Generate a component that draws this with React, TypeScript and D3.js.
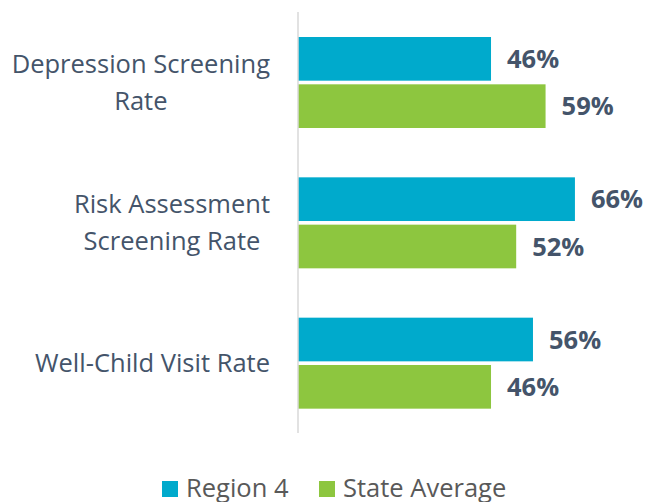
import React, { useEffect, useRef } from "react";
import * as d3 from "d3";

const categories = [
  ["Depression Screening", "Rate"],
  ["Risk Assessment", "Screening Rate"],
  ["Well-Child Visit Rate"],
];
const seriesNames = ["Region 4", "State Average"];
const region4 = [46, 66, 56];
const stateAvg = [59, 52, 46];
const colors = ["#00AACC", "#8DC63F"];

const W = 660;
const H = 502;
const axisX = 298;
const top = 12;
const bottom = 433;

export default function App() {
  const ref = useRef<SVGSVGElement>(null);
  useEffect(() => {
    const svg = d3.select(ref.current);
    svg.selectAll("*").remove();
    const x = d3.scaleLinear().domain([0, 100]).range([axisX, axisX + 419.6]);
    const y = d3.scaleBand<number>().domain([0, 1, 2]).range([top, bottom]);
    const inner = d3.scaleBand<number>().domain([0, 1]).range([25, 116]).paddingInner(0.077);
    const series = [region4, stateAvg];

    const g = svg.append("g");
    series.forEach((vals, si) => {
      vals.forEach((v, ci) => {
        const y0 = (y(ci) as number) + (inner(si) as number);
        g.append("rect")
          .attr("x", x(0))
          .attr("y", y0)
          .attr("width", x(v) - x(0))
          .attr("height", inner.bandwidth())
          .attr("fill", colors[si]);
        g.append("text")
          .attr("x", x(v) + 16)
          .attr("y", y0 + inner.bandwidth() / 2)
          .attr("dy", "0.36em")
          .attr("font-family", "Open Sans")
          .attr("font-weight", 700)
          .attr("font-size", 25.5)
          .attr("fill", "#44546A")
          .text(`${v}%`);
      });
    });

    g.append("line")
      .attr("x1", axisX)
      .attr("x2", axisX)
      .attr("y1", top)
      .attr("y2", bottom)
      .attr("stroke", "#D9D9D9")
      .attr("stroke-width", 1.5);

    const lineH = 37;
    categories.forEach((lines, ci) => {
      const cy = (y(ci) as number) + y.bandwidth() / 2;
      const t = g.append("text")
        .attr("font-family", "Open Sans")
        .attr("font-size", 25.5)
        .attr("fill", "#44546A")
        .attr("text-anchor", "middle");
      const spans = lines.map((l, i) =>
        t.append("tspan")
          .attr("x", 0)
          .attr("y", cy + (i - (lines.length - 1) / 2) * lineH)
          .attr("dy", "0.35em")
          .text(l)
      );
      const maxW = d3.max(spans.map((s) => (s.node() as SVGTextContentElement).getComputedTextLength())) || 0;
      const cx = 270 - maxW / 2;
      spans.forEach((s) => s.attr("x", cx));
    });

    const legend = g.append("g");
    const legendX = [162, 319];
    seriesNames.forEach((n, i) => {
      legend.append("rect")
        .attr("x", legendX[i])
        .attr("y", 481)
        .attr("width", 16)
        .attr("height", 16)
        .attr("fill", colors[i]);
      legend.append("text")
        .attr("x", legendX[i] + 24)
        .attr("y", 497)
        .attr("font-family", "Open Sans")
        .attr("font-size", 25.5)
        .attr("fill", "#595959")
        .text(n);
    });
  }, []);
  return (
    <svg ref={ref} width={W} height={H} style={{ position: "absolute", left: 0, top: 0 }} />
  );
}
